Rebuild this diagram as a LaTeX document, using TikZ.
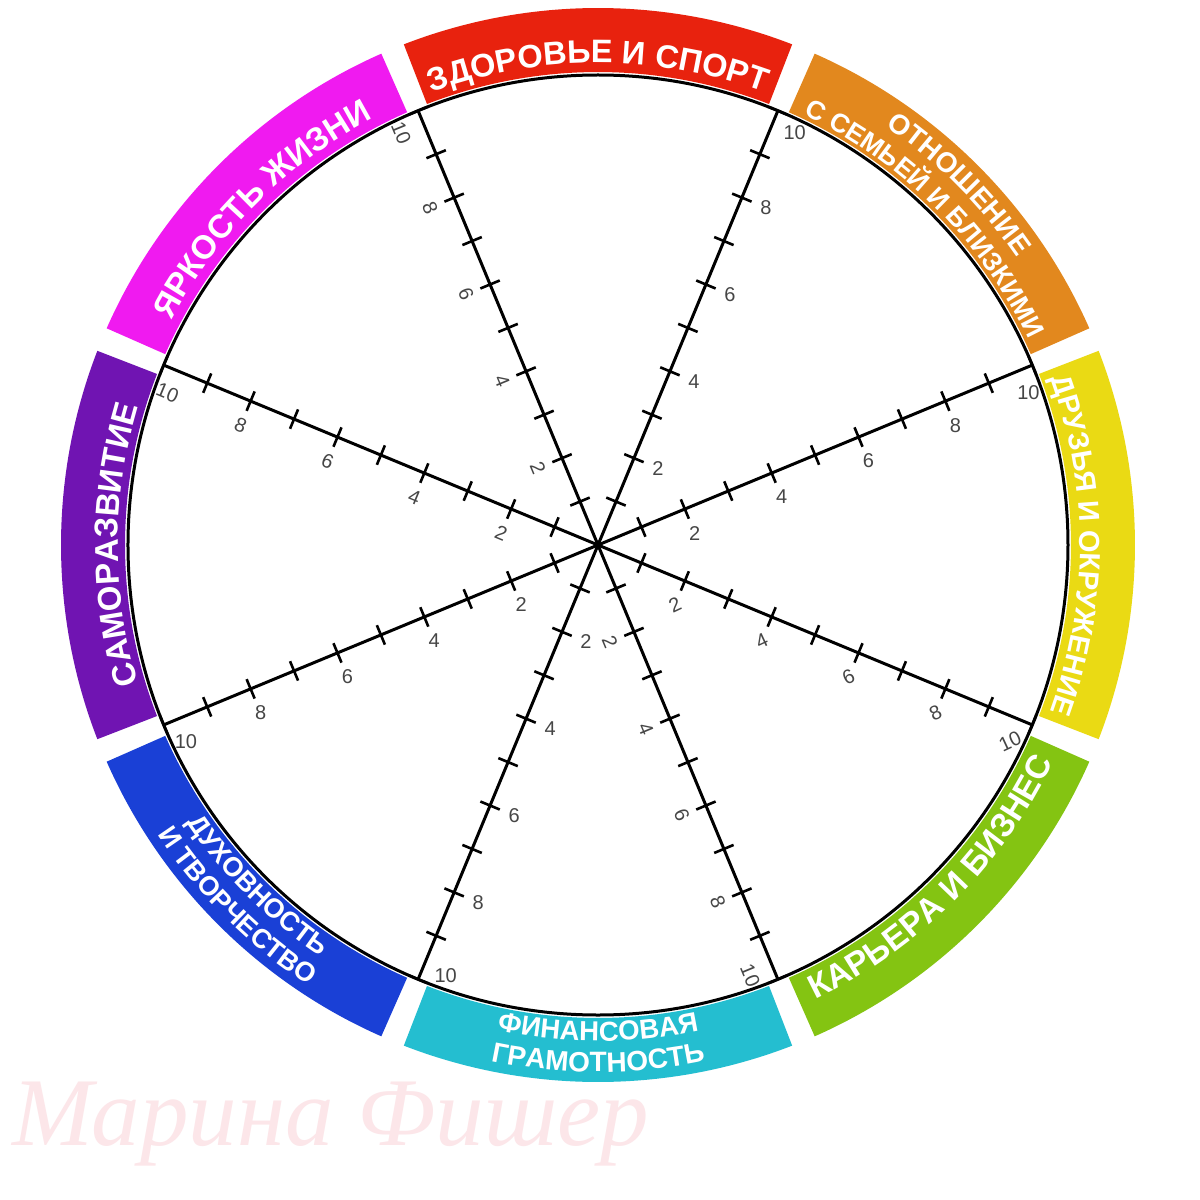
\documentclass[tikz,border=0pt]{standalone}
\usepackage{fontspec}
\setmainfont{Liberation Sans}
\newfontfamily\wmfont{Liberation Serif}
\usetikzlibrary{decorations.text,calc}
\definecolor{cred}{RGB}{232,34,14}
\definecolor{corange}{RGB}{226,136,30}
\definecolor{cyellow}{RGB}{234,218,20}
\definecolor{cgreen}{RGB}{132,196,18}
\definecolor{cteal}{RGB}{36,190,208}
\definecolor{cblue}{RGB}{26,64,214}
\definecolor{cpurple}{RGB}{112,20,178}
\definecolor{cmagenta}{RGB}{240,26,240}
\definecolor{cwm}{RGB}{252,230,233}
\definecolor{cnum}{RGB}{70,70,70}
\newcommand\bandsector[2]{%
  \fill[#2] ({#1-21.2}:473pt) arc[start angle={#1-21.2}, end angle={#1+21.2}, radius=473pt]
    -- ({#1+21.2}:537pt) arc[start angle={#1+21.2}, end angle={#1-21.2}, radius=537pt] -- cycle;}
\newcommand\arctext[5]{%
  \path[decorate, decoration={text along path, text align=center, text color=white,
     text={|\bfseries\fontsize{#4}{#4}\selectfont|#5}}]
     ({#1}:#3pt) arc[start angle=#1, end angle=#2, radius=#3pt];}
\begin{document}
\begin{tikzpicture}[
  spoke/.style={line width=3pt, black},
  tickmark/.style={line width=2.6pt, black},
  rim/.style={line width=3pt, black},
  numlbl/.style={font=\fontsize{20}{20}\selectfont, text=cnum, inner sep=0pt},
  wm/.style={font=\wmfont\itshape\fontsize{97}{97}\selectfont, text=cwm, anchor=base west, inner sep=0pt}
]
\useasboundingbox (-598pt,-655pt) rectangle (602pt,545pt);
\fill[white] (-598pt,-655pt) rectangle (602pt,545pt);
\node[wm] (wmark) at (-586pt,-600pt) {Марина Фишер};
% coloured bands
\bandsector{90}{cred}
\bandsector{45}{corange}
\bandsector{0}{cyellow}
\bandsector{-45}{cgreen}
\bandsector{-90}{cteal}
\bandsector{-135}{cblue}
\bandsector{180}{cpurple}
\bandsector{135}{cmagenta}
% band labels
\arctext{130}{50}{482}{32.5}{ЗДОРОВЬЕ И СПОРТ}
\arctext{175}{95}{482}{33}{ЯРКОСТЬ ЖИЗНИ}
\arctext{85}{5}{508}{28}{ОТНОШЕНИЕ}
\arctext{85}{5}{477}{26.5}{С СЕМЬЕЙ И БЛИЗКИМИ}
\arctext{40}{-40}{482}{29}{ДРУЗЬЯ И ОКРУЖЕНИЕ}
\arctext{220}{140}{480}{33}{САМОРАЗВИТИЕ}
\arctext{-85}{-5}{504}{33.5}{КАРЬЕРА И БИЗНЕС}
\arctext{-130}{-50}{496}{27.5}{ФИНАНСОВАЯ}
\arctext{-130}{-50}{527}{28}{ГРАМОТНОСТЬ}
\arctext{-175}{-95}{496}{27}{ДУХОВНОСТЬ}
\arctext{-175}{-95}{527}{27}{И ТВОРЧЕСТВО}
% wheel
\draw[rim] (0,0) circle[radius=470pt];
\coordinate (O) at (0,0);
\foreach \a/\s/\rt [count=\i] in {67.5/-1/0, 22.5/-1/0, -22.5/-1/25, -67.5/-1/-67.5, 112.5/1/-67.5, 157.5/1/-22.5, 202.5/1/0, 247.5/1/0}{
  \coordinate (e\i) at (\a:470pt);
  \draw[spoke] (O) -- (e\i);
  \foreach \k in {1,...,10}{
    \pgfmathsetmacro\rr{47*\k}
    \draw[tickmark, shift={(\a:\rr pt)}] ({\a+90}:10.5pt) -- ({\a-90}:10.5pt);
  }
  \pgfmathsetmacro\nrm{\a+\s*90}
  \foreach \k in {2,4,6,8}{
    \pgfmathsetmacro\rr{47*\k}
    \node[numlbl, rotate=\rt] (n\i-\k) at ($(\a:\rr pt)+(\nrm:26pt)$) {\k};
  }
  \node[numlbl, rotate=\rt] (n\i-10) at ($(\a:456pt)+(\nrm:24pt)$) {10};
}
\end{tikzpicture}
\end{document}
